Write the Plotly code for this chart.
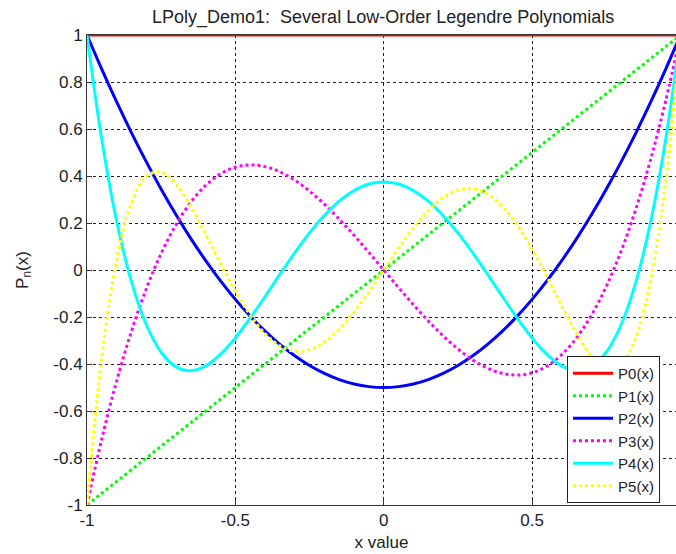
import plotly.graph_objects as go

x_vals = [-1.0, -0.95, -0.9, -0.85, -0.8, -0.75, -0.7, -0.65, -0.6, -0.55, -0.5,
          -0.45, -0.4, -0.35, -0.3, -0.25, -0.2, -0.15, -0.1, -0.05, 0.0,
          0.05, 0.1, 0.15, 0.2, 0.25, 0.3, 0.35, 0.4, 0.45, 0.5,
          0.55, 0.6, 0.65, 0.7, 0.75, 0.8, 0.85, 0.9, 0.95, 1.0]

p0 = [1.0] * 41
p1 = [-1.0, -0.95, -0.9, -0.85, -0.8, -0.75, -0.7, -0.65, -0.6, -0.55, -0.5,
      -0.45, -0.4, -0.35, -0.3, -0.25, -0.2, -0.15, -0.1, -0.05, 0.0,
      0.05, 0.1, 0.15, 0.2, 0.25, 0.3, 0.35, 0.4, 0.45, 0.5,
      0.55, 0.6, 0.65, 0.7, 0.75, 0.8, 0.85, 0.9, 0.95, 1.0]
p2 = [1.0, 0.85375, 0.715, 0.58375, 0.46, 0.34375, 0.235, 0.13375, 0.04, -0.04625, -0.125,
      -0.19625, -0.26, -0.31625, -0.365, -0.40625, -0.44, -0.46625, -0.485, -0.49625, -0.5,
      -0.49625, -0.485, -0.46625, -0.44, -0.40625, -0.365, -0.31625, -0.26, -0.19625, -0.125,
      -0.04625, 0.04, 0.13375, 0.235, 0.34375, 0.46, 0.58375, 0.715, 0.85375, 1.0]
p3 = [-1.0, -0.7184, -0.4725, -0.2603, -0.08, 0.0703, 0.1925, 0.2884, 0.36, 0.4091, 0.4375,
      0.4472, 0.44, 0.4178, 0.3825, 0.3359, 0.28, 0.2166, 0.1475, 0.0747, 0.0,
      -0.0747, -0.1475, -0.2166, -0.28, -0.3359, -0.3825, -0.4178, -0.44, -0.4472, -0.4375,
      -0.4091, -0.36, -0.2884, -0.1925, -0.0703, 0.08, 0.2603, 0.4725, 0.7184, 1.0]
p4 = [1.0, 0.5541, 0.2079, -0.0506, -0.233, -0.3501, -0.4121, -0.4284, -0.408, -0.359, -0.2891,
      -0.205, -0.113, -0.0187, 0.0729, 0.1577, 0.232, 0.2928, 0.3379, 0.3657, 0.375,
      0.3657, 0.3379, 0.2928, 0.232, 0.1577, 0.0729, -0.0187, -0.113, -0.205, -0.2891,
      -0.359, -0.408, -0.4284, -0.4121, -0.3501, -0.233, -0.0506, 0.2079, 0.5541, 1.0]
p5 = [-1.0, -0.3727, 0.0411, 0.2857, 0.3995, 0.4164, 0.3652, 0.2705, 0.1526, 0.0282, -0.0898,
      -0.1917, -0.2706, -0.3225, -0.3454, -0.3397, -0.3075, -0.2523, -0.1788, -0.0927, 0.0,
      0.0927, 0.1788, 0.2523, 0.3075, 0.3397, 0.3454, 0.3225, 0.2706, 0.1917, 0.0898,
      -0.0282, -0.1526, -0.2705, -0.3652, -0.4164, -0.3995, -0.2857, -0.0411, 0.3727, 1.0]

series_names = ["P0(x)", "P1(x)", "P2(x)", "P3(x)", "P4(x)", "P5(x)"]
series_vals = [p0, p1, p2, p3, p4, p5]
colors = ["#FF0000", "#00FF00", "#0000FF", "#FF00FF", "#00FFFF", "#FFFF00"]
dashes = ["solid", "dot", "solid", "dot", "solid", "dot"]

x_ticks = [-1, -0.5, 0, 0.5]
x_tick_text = ["-1", "-0.5", "0", "0.5"]
y_ticks = [-1, -0.8, -0.6, -0.4, -0.2, 0, 0.2, 0.4, 0.6, 0.8, 1]
y_tick_text = ["-1", "-0.8", "-0.6", "-0.4", "-0.2", "0", "0.2", "0.4", "0.6", "0.8", "1"]

FONT = "Liberation Sans, Arial, sans-serif"

fig = go.Figure()
for name, vals, col, dash in zip(series_names, series_vals, colors, dashes):
    fig.add_trace(go.Scatter(
        x=x_vals, y=vals, name=name, mode="lines",
        line=dict(color=col, width=3, dash=dash, shape="spline", smoothing=1.0),
        cliponaxis=True,
    ))

fig.update_layout(
    width=676, height=554,
    margin=dict(l=87, r=0, t=35, b=49),
    paper_bgcolor="white", plot_bgcolor="white",
    font=dict(family=FONT, size=17, color="#222"),
    title=dict(text="LPoly_Demo1:  Several Low-Order Legendre Polynomials",
               x=0.5668, xanchor="center", y=0.969, yanchor="middle",
               font=dict(family=FONT, size=18, color="#222")),
    showlegend=True,
    legend=dict(x=0.815, y=0.004, xanchor="left", yanchor="bottom",
                bgcolor="white", bordercolor="#222", borderwidth=1,
                font=dict(family=FONT, size=15, color="#222"),
                itemwidth=40, tracegroupgap=0),
)
fig.update_xaxes(
    range=[-1, 0.985], tickvals=x_ticks, ticktext=x_tick_text,
    tickfont=dict(family=FONT, size=17),
    showgrid=True, gridcolor="#222", griddash="3px,3px", gridwidth=1,
    showline=True, linecolor="#333", linewidth=1, mirror=True,
    ticks="inside", ticklen=5, tickcolor="#333",
    zeroline=False,
    title=dict(text="x value", standoff=6, font=dict(family=FONT, size=17)),
)
fig.update_yaxes(
    range=[-1, 1], tickvals=y_ticks, ticktext=y_tick_text,
    tickfont=dict(family=FONT, size=17),
    showgrid=True, gridcolor="#222", griddash="3px,3px", gridwidth=1,
    showline=True, linecolor="#333", linewidth=1, mirror=True,
    ticks="inside", ticklen=5, tickcolor="#333",
    zeroline=False,
    title=dict(text="P<sub>n</sub>(x)", standoff=20, font=dict(family=FONT, size=17)),
)

fig.write_html("out.html")
